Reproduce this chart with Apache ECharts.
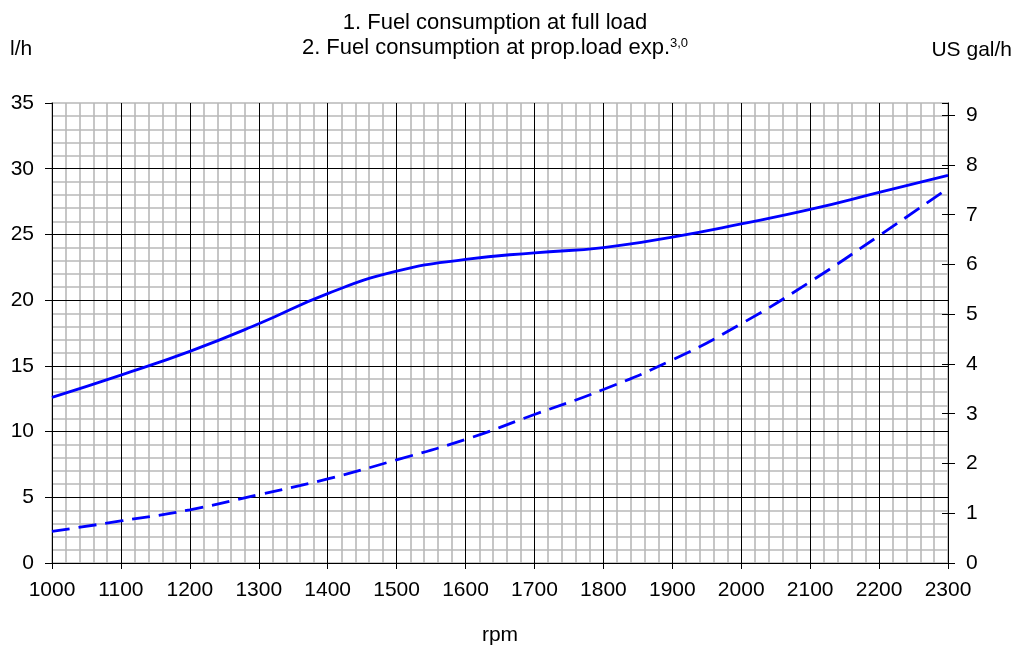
<!DOCTYPE html>
<html>
<head>
<meta charset="utf-8">
<script src="https://cdn.jsdelivr.net/npm/echarts@6/dist/echarts.min.js"></script>
<style>
  html, body { margin: 0; padding: 0; background: #fff; }
  #chart { width: 1018px; height: 649px; }
</style>
</head>
<body>
<div id="chart"></div>
<script>
// rpm sample points
const rpm = [1000, 1100, 1200, 1300, 1400, 1500, 1600, 1700, 1800, 1900, 2000, 2100, 2200, 2300];
// 1. full load, l/h
const fullLoad = [12.6, 14.3, 16.1, 18.2, 20.5, 22.2, 23.1, 23.6, 24.0, 24.8, 25.8, 26.9, 28.2, 29.5];
// 2. prop. load exp 3.0, l/h
const propLoad = [2.4, 3.2, 4.05, 5.2, 6.4, 7.85, 9.4, 11.3, 13.2, 15.45, 18.2, 21.4, 24.9, 28.5];

const LITERS_PER_GAL = 3.785411784;
const yMax = 35;
const font = "Liberation Sans, Arial, sans-serif";

const chart = echarts.init(document.getElementById("chart"), null, { renderer: "canvas" });

const pair = (ys) => rpm.map((x, i) => [x, ys[i]]);

const hidden = { axisLine: { show: false }, axisTick: { show: false }, axisLabel: { show: false } };
const minorGray = { show: true, lineStyle: { color: "#b8b8b8", width: 1.6 } };

const option = {
  animation: false,
  grid: {
    left: 52, right: 70, top: 103, bottom: 86,
    show: true, borderColor: "#b8b8b8", borderWidth: 1.5,
    containLabel: false, outerBoundsMode: "none",
  },
  graphic: [
    { type: "text", x: 495, y: 23, style: { text: "1. Fuel consumption at full load", font: "22px " + font, fill: "#000", align: "center", verticalAlign: "middle" } },
    {
      type: "text", x: 495, y: 48,
      style: {
        text: "2. Fuel consumption at prop.load exp.{sup|3,0}",
        font: "22px " + font, fill: "#000", align: "center", verticalAlign: "middle",
        rich: { sup: { fontSize: 13, fontFamily: font, verticalAlign: "top", padding: [0, 0, 10, 0] } },
      },
    },
    { type: "text", x: 10, y: 49, style: { text: "l/h", font: "21px " + font, fill: "#000", verticalAlign: "middle" } },
    { type: "text", x: 1012, y: 50, style: { text: "US gal/h", font: "21px " + font, fill: "#000", align: "right", verticalAlign: "middle" } },
    { type: "text", x: 500, y: 635, style: { text: "rpm", font: "21px " + font, fill: "#000", align: "center", verticalAlign: "middle" } },
  ],
  xAxis: [
    {
      type: "value", min: 1000, max: 2300, interval: 100, z: 1,
      axisLine: { lineStyle: { color: "#000", width: 1 } },
      axisTick: { show: true, length: 6, lineStyle: { color: "#000" } },
      axisLabel: { color: "#000", fontSize: 21, fontFamily: font, margin: 17, formatter: (v) => String(v) },
      splitLine: { show: true, lineStyle: { color: "#000", width: 1 } },
    },
    {
      type: "value", min: 1000, max: 2300, interval: 100, z: 0, ...hidden,
      splitLine: { show: false },
      minorTick: { show: false, splitNumber: 5 },
      minorSplitLine: minorGray,
    },
  ],
  yAxis: [
    {
      type: "value", position: "left", min: 0, max: yMax, interval: 5, z: 1,
      axisLine: { show: true, lineStyle: { color: "#000", width: 1 } },
      axisTick: { show: true, length: 7, lineStyle: { color: "#000" } },
      axisLabel: { color: "#000", fontSize: 21, fontFamily: font, margin: 18 },
      splitLine: { show: true, showMaxLine: false, lineStyle: { color: "#000", width: 1 } },
    },
    {
      type: "value", position: "right", min: 0, max: yMax / LITERS_PER_GAL, interval: 1, z: 1,
      axisLine: { show: true, lineStyle: { color: "#000", width: 1 } },
      axisTick: { show: true, length: 7, lineStyle: { color: "#000" } },
      axisLabel: { color: "#000", fontSize: 21, fontFamily: font, margin: 18, showMaxLabel: false },
      splitLine: { show: false },
    },
    {
      type: "value", position: "right", min: 0, max: yMax / LITERS_PER_GAL, interval: 1, z: 1,
      axisLine: { show: false },
      axisTick: { show: true, inside: true, length: 6, lineStyle: { color: "#000" } },
      axisLabel: { show: false },
      splitLine: { show: false },
    },
    {
      type: "value", position: "left", min: 0, max: yMax, interval: 5, z: 0, ...hidden,
      splitLine: { show: false },
      minorTick: { show: false, splitNumber: 5 },
      minorSplitLine: minorGray,
    },
  ],
  series: [
    {
      name: "1. Fuel consumption at full load",
      type: "line", xAxisIndex: 0, yAxisIndex: 0,
      data: pair(fullLoad), smooth: 0.5, showSymbol: false, z: 5,
      lineStyle: { color: "#0000ff", width: 2.8, type: "solid" },
    },
    {
      name: "2. Fuel consumption at prop.load exp.3,0",
      type: "line", xAxisIndex: 0, yAxisIndex: 0,
      data: pair(propLoad), smooth: 0.5, showSymbol: false, z: 5,
      lineStyle: { color: "#0000ff", width: 2.8, type: [18, 9] },
    },
  ],
};

chart.setOption(option);
</script>
</body>
</html>
